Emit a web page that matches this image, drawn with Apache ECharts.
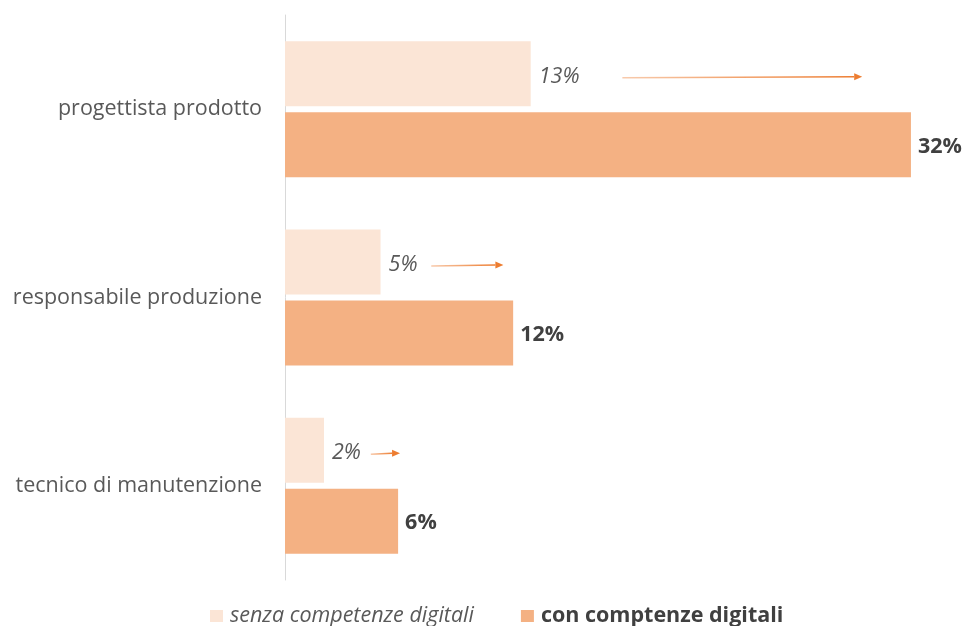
<!DOCTYPE html>
<html>
<head>
<meta charset="utf-8">
<script src="https://cdn.jsdelivr.net/npm/echarts@6/dist/echarts.min.js"></script>
<style>
  html, body { margin: 0; padding: 0; background: #fff; }
  #graph { width: 967px; height: 626px; }
</style>
</head>
<body>
<div id="graph"></div>
<script>
var categories = ['progettista prodotto', 'responsabile produzione', 'tecnico di manutenzione'];
var seriesNames = ['senza competenze digitali', 'con comptenze digitali'];
// values, labels show the rounded percentage
var senzaValues = [12.6, 4.9, 2.0];
var conValues = [32.1, 11.7, 5.8];
// arrow annotations: [category index, start value, end value]
var arrows = [[0, 17.3, 29.6], [1, 7.5, 11.2], [2, 4.4, 5.9]];

var FONT = 'Open Sans';
var FS = 21.5;
var BAR_W = 65;
var BAR_GAP = 6;

function pct(p) {
    return Math.round(p.value) + '%';
}

var option = {
    animation: false,
    grid: { left: 285, right: 19, top: 15, bottom: 46 },
    xAxis: {
        type: 'value',
        min: 0,
        max: 34,
        show: false
    },
    yAxis: {
        type: 'category',
        data: categories,
        inverse: true,
        axisLine: { show: true, lineStyle: { color: '#d9d9d9', width: 1 } },
        axisTick: { show: false },
        axisLabel: { margin: 23, color: '#595959', fontSize: FS, fontFamily: FONT, padding: [10, 0, 0, 0] }
    },
    legend: {
        top: 600,
        left: 205,
        icon: 'rect',
        itemWidth: 13,
        itemHeight: 12,
        itemGap: 47,
        data: [
            { name: seriesNames[0], textStyle: { fontStyle: 'italic', color: '#595959' } },
            { name: seriesNames[1], textStyle: { fontWeight: 'bold', color: '#404040' } }
        ],
        textStyle: { fontSize: 21.5, fontFamily: FONT, padding: [0, 0, 0, 2] }
    },
    series: [
        {
            name: seriesNames[0],
            type: 'bar',
            data: senzaValues,
            barWidth: BAR_W,
            barGap: (BAR_GAP / BAR_W * 100) + '%',
            itemStyle: { color: '#fbe5d6' },
            label: {
                show: true,
                position: 'right',
                distance: 8,
                offset: [0, 3],
                formatter: pct,
                fontSize: FS,
                fontFamily: FONT,
                fontStyle: 'italic',
                color: '#595959'
            }
        },
        {
            name: seriesNames[1],
            type: 'bar',
            data: conValues,
            barWidth: BAR_W,
            itemStyle: { color: '#f4b183' },
            label: {
                show: true,
                position: 'right',
                distance: 7,
                offset: [0, 2],
                formatter: pct,
                fontSize: FS,
                fontFamily: FONT,
                fontWeight: 'bold',
                color: '#404040'
            }
        },
        {
            name: 'arrows',
            type: 'custom',
            data: arrows,
            encode: { x: [1, 2], y: 0 },
            silent: true,
            z: 5,
            renderItem: function(params, api) {
                var cat = api.value(0);
                var p1 = api.coord([api.value(1), cat]);
                var p2 = api.coord([api.value(2), cat]);
                // sit a little below the centre of the light bar
                var dy = -(BAR_W + BAR_GAP) / 2 + 3;
                var y = p1[1] + dy;
                var head = 8;
                return {
                    type: 'group',
                    children: [
                        {
                            type: 'line',
                            shape: { x1: p1[0], y1: y + 1, x2: p2[0] - head, y2: y },
                            style: {
                                stroke: new echarts.graphic.LinearGradient(0, 0, 1, 0, [
                                    { offset: 0, color: '#f8cbad' },
                                    { offset: 1, color: '#ed7d31' }
                                ]),
                                lineWidth: 1.5
                            }
                        },
                        {
                            type: 'polygon',
                            shape: { points: [[p2[0] - head, y - 3.5], [p2[0], y], [p2[0] - head, y + 3.5]] },
                            style: { fill: '#ed7d31' }
                        }
                    ]
                };
            }
        }
    ]
};

var chart = echarts.init(document.getElementById('graph'));
chart.setOption(option);
</script>
</body>
</html>
